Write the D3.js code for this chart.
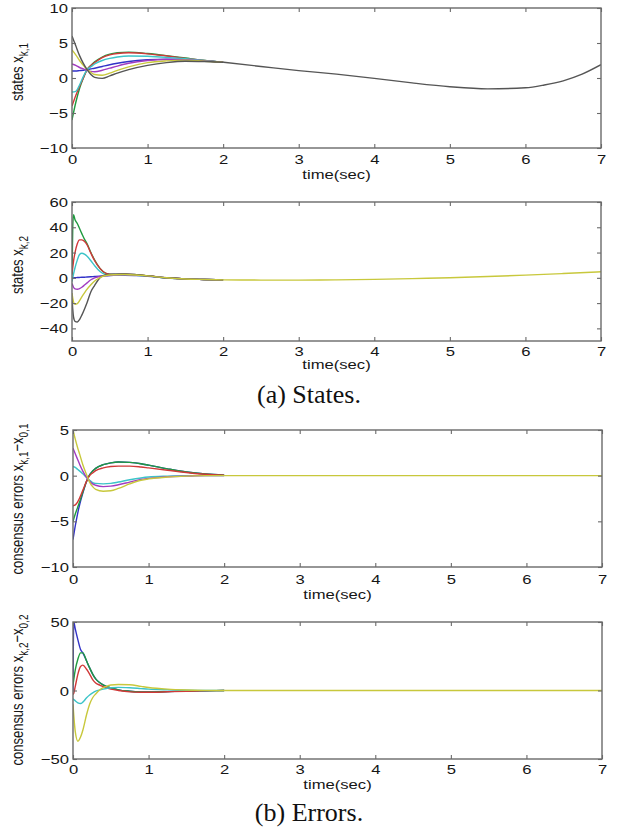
<!DOCTYPE html>
<html><head><meta charset="utf-8">
<script src="https://cdn.jsdelivr.net/npm/d3@7"></script>
<style>
html,body{margin:0;padding:0;background:#fff;}
svg{display:block;}
</style></head>
<body>
<svg id="chart" width="618" height="835"></svg>
<script>
// ---------- data ----------
const xTicks = [0,1,2,3,4,5,6,7];
const colors = {blue:'#3232c8', green:'#1f9a3f', red:'#d03838', cyan:'#3cc4c8', magenta:'#a23cc0', yellow:'#c8c83c', gray:'#555555'};

// Panel 1: states x_{k,1}
const p1Time = [0,0.05,0.1,0.15,0.2,0.25,0.3,0.4,0.5,0.6,0.75,1,1.25,1.5,1.75,2];
const p1Blue    = [1,1,1.05,1.1,1.2,1.3,1.4,1.65,1.9,2.1,2.35,2.6,2.7,2.65,2.45,2.25];
const p1Green   = [-6,-3.5,-1.5,0,1.2,1.8,2.3,3,3.4,3.6,3.7,3.5,3.2,2.85,2.5,2.25];
const p1Red     = [-4,-2.5,-1.2,0,1.2,1.8,2.2,2.9,3.3,3.5,3.6,3.45,3.15,2.8,2.5,2.25];
const p1Cyan    = [-2,-1.9,-1,0.2,1.2,1.6,2,2.5,2.8,3,3.15,3.1,2.95,2.75,2.5,2.25];
const p1Magenta = [2,1.8,1.5,1.3,1.1,0.95,0.9,1.1,1.4,1.7,2.1,2.5,2.65,2.6,2.45,2.25];
const p1Yellow  = [4,3.3,2.5,1.8,1.2,0.8,0.5,0.4,0.7,1.1,1.6,2.2,2.45,2.55,2.4,2.25];
const p1Gray    = [6,4.6,3.2,2.1,1.2,0.5,0.1,-0.05,0.3,0.7,1.2,1.8,2.2,2.4,2.35,2.25];
const p1TailTime = [2,2.5,3,3.5,4,4.5,5,5.5,6,6.25,6.5,6.75,7];
const p1Tail     = [2.25,1.65,1.05,0.55,-0.05,-0.7,-1.25,-1.55,-1.4,-1.0,-0.4,0.55,1.9];
const p1YTicks = [-10,-5,0,5,10];

// Panel 2: states x_{k,2}
const p2Time = [0,0.01,0.02,0.04,0.07,0.1,0.13,0.17,0.2,0.25,0.3,0.37,0.45,0.55,0.7,0.85,1,1.25,1.5,1.75,2];
const p2Blue    = [0,0,0,0.1,0.2,0.3,0.4,0.5,0.6,0.8,1,1.3,1.6,1.9,2.0,1.7,1.2,0,-0.9,-1.3,-1.6];
const p2Green   = [2,40,50,46,43,39,35,30,27,20,14,7.5,3.5,2.5,2.8,2.4,1.6,0,-0.9,-1.3,-1.6];
const p2Red     = [3,8,13,20,27,30,30,28.5,26,19.5,13.5,7.5,3.5,2.5,2.8,2.4,1.6,0,-0.9,-1.3,-1.6];
const p2Cyan    = [-3,0,3,8,14,18.5,19.5,18.5,17,13.5,9.5,5,2.5,2,2.3,2,1.3,-0.1,-0.9,-1.3,-1.6];
const p2Magenta = [-4.5,-6,-7.5,-8.7,-9,-8.5,-7.5,-5.5,-4,-1.5,0,1,1.8,2.2,2.4,2.1,1.4,0,-0.9,-1.3,-1.6];
const p2Gray    = [-15,-25,-31,-34.5,-35,-33,-29.5,-24,-19.5,-11,-6,0,2.5,3,3,2.5,1.6,0,-0.9,-1.3,-1.6];
const p2Yellow  = [-12,-16,-19,-21,-20.5,-18,-15,-11.5,-9,-5.5,-2.5,0.2,1.8,2.4,2.6,2.2,1.5,0,-0.9,-1.3,-1.6];
const p2TailTime = [2,2.5,3,3.5,4,4.5,5,5.5,6,6.5,7];
const p2Tail     = [-1.6,-1.8,-1.8,-1.6,-1.2,-0.6,0.1,1.0,2.1,3.4,4.8];
const p2YTicks = [-40,-20,0,20,40,60];

// Panel 3: consensus errors x_{k,1}-x_{0,1}
const p3Time = [0,0.03,0.06,0.09,0.13,0.18,0.22,0.26,0.3,0.4,0.5,0.6,0.75,0.9,1,1.25,1.5,1.75,2];
const p3Blue    = [-7,-5.5,-4.2,-3.1,-1.9,-0.6,0.1,0.5,0.8,1.2,1.4,1.5,1.45,1.3,1.15,0.75,0.4,0.18,0.06];
const p3Green   = [-5,-4.2,-3.5,-2.8,-1.8,-0.6,0.1,0.5,0.8,1.2,1.4,1.5,1.45,1.3,1.15,0.75,0.4,0.18,0.06];
const p3Red     = [-3.3,-3.2,-2.9,-2.4,-1.6,-0.6,0,0.3,0.55,0.85,1.0,1.05,1.05,0.95,0.85,0.6,0.35,0.15,0.05];
const p3Cyan    = [1,0.9,0.7,0.5,0.2,-0.2,-0.5,-0.75,-0.85,-0.9,-0.85,-0.7,-0.45,-0.25,-0.15,-0.05,0,0,0];
const p3Magenta = [3,2.4,1.8,1.2,0.5,-0.2,-0.6,-0.9,-1.05,-1.2,-1.15,-1.0,-0.7,-0.4,-0.3,-0.12,-0.05,0,0];
const p3Yellow  = [5,4,3.1,2.3,1.2,0.1,-0.7,-1.2,-1.5,-1.7,-1.65,-1.4,-0.9,-0.5,-0.35,-0.15,-0.05,0,0];
const p3TailTime = [2,3,4,5,6,7];
const p3Tail     = [0,0,0,0,0,0];
const p3YTicks = [-10,-5,0,5];

// Panel 4: consensus errors x_{k,2}-x_{0,2}
const p4Time = [0,0.01,0.03,0.065,0.1,0.13,0.18,0.22,0.26,0.3,0.36,0.44,0.5,0.6,0.75,0.9,1,1.25,1.5,1.75,2];
const p4Blue   = [0,50,45,37,30,27.5,21.5,16.5,12,8.5,5.5,3,2,0.5,-0.5,-1,-1.1,-0.8,-0.4,-0.15,0];
const p4Green  = [4,8,15,23,27.5,27.5,21.5,16.5,12,8.5,5.5,3,2,0.5,-0.5,-1,-1.1,-0.8,-0.4,-0.15,0];
const p4Red    = [-3,-2,3,12,17.5,18.5,15.5,12,8,5.5,3.8,1.9,1.0,0,-1,-1.3,-1.3,-0.9,-0.5,-0.2,0];
const p4Cyan   = [-6,-6.5,-7.5,-9,-9.5,-8.5,-5.3,-3.3,-1.7,-0.5,0.5,1.5,2,2.3,2,1.4,1,0.5,0.2,0.05,0];
const p4Yellow = [-10,-18,-30,-37,-34,-29,-17.5,-10,-5.3,-2.5,0.7,3,4,4.4,4.2,3,2.2,1,0.4,0.1,0];
const p4TailTime = [2,3,4,5,6,7];
const p4Tail     = [0,0,0,0,0,0];
const p4YTicks = [-50,0,50];

// ---------- layout ----------
const svg = d3.select('#chart');
const SX = 1.3; // horizontal stretch of the original figure text

const panels = [
  {x0:72, x1:601, y0:8,   y1:148, dom:[-10,10], yt:p1YTicks, t:p1Time,
   series:[[p1Blue,'blue'],[p1Green,'green'],[p1Red,'red'],[p1Cyan,'cyan'],[p1Magenta,'magenta'],[p1Yellow,'yellow'],[p1Gray,'gray']],
   tail:[p1TailTime,p1Tail,'gray'], ylab:[['states x',0],['k,1',1]], ylabY:72, tickBase:16, labBase:31},
  {x0:72, x1:601, y0:202, y1:341, dom:[-50,60], yt:p2YTicks, t:p2Time,
   series:[[p2Blue,'blue'],[p2Green,'green'],[p2Red,'red'],[p2Cyan,'cyan'],[p2Magenta,'magenta'],[p2Gray,'gray'],[p2Yellow,'yellow']],
   tail:[p2TailTime,p2Tail,'yellow'], ylab:[['states x',0],['k,2',1]], ylabY:265, tickBase:15, labBase:28},
  {x0:73, x1:602, y0:430, y1:567, dom:[-10,5], yt:p3YTicks, t:p3Time,
   series:[[p3Blue,'blue'],[p3Green,'green'],[p3Red,'red'],[p3Cyan,'cyan'],[p3Magenta,'magenta'],[p3Yellow,'yellow']],
   tail:[p3TailTime,p3Tail,'yellow'], ylab:[['consensus errors x',0],['k,1',1],['\u2212x',0],['0,1',1]], ylabY:499, tickBase:17, labBase:32},
  {x0:73, x1:602, y0:622, y1:759, dom:[-50,50], yt:p4YTicks, t:p4Time,
   series:[[p4Blue,'blue'],[p4Green,'green'],[p4Red,'red'],[p4Cyan,'cyan'],[p4Yellow,'yellow']],
   tail:[p4TailTime,p4Tail,'yellow'], ylab:[['consensus errors x',0],['k,2',1],['\u2212x',0],['0,2',1]], ylabY:690, tickBase:15, labBase:30}
];

const fmt = d => (d < 0 ? '\u2212' + Math.abs(d) : String(d));
const FONT = 'Liberation Sans, Arial, sans-serif';

panels.forEach((p, i) => {
  const x = d3.scaleLinear().domain([0,7]).range([p.x0, p.x1]);
  const y = d3.scaleLinear().domain(p.dom).range([p.y1, p.y0]);
  const g = svg.append('g');
  const clipId = 'clip' + i;
  svg.append('clipPath').attr('id', clipId).append('rect')
    .attr('x', p.x0).attr('y', p.y0).attr('width', p.x1 - p.x0).attr('height', p.y1 - p.y0);

  const line = d3.line().x(d => x(d[0])).y(d => y(d[1])).curve(d3.curveMonotoneX);
  const lg = g.append('g').attr('clip-path', `url(#${clipId})`);
  p.series.forEach(([vals, c]) => {
    lg.append('path').datum(p.t.map((t, j) => [t, vals[j]]))
      .attr('d', line).attr('fill', 'none').attr('stroke', colors[c])
      .attr('stroke-width', 1.4).attr('stroke-linejoin', 'round');
  });
  const [tt, tv, tc] = p.tail;
  lg.append('path').datum(tt.map((t, j) => [t, tv[j]]))
    .attr('d', line).attr('fill', 'none').attr('stroke', colors[tc]).attr('stroke-width', 1.4);

  const axCol = '#6a6a6a';
  const ax = g.append('g').attr('transform', `translate(0,${p.y1})`)
    .call(d3.axisBottom(x).tickValues(xTicks).tickSizeInner(-4).tickSizeOuter(0).tickPadding(0).tickFormat(fmt));
  ax.selectAll('text').attr('y', null).attr('dy', null)
    .attr('transform', `translate(0,${p.tickBase}) scale(${SX},1)`);
  g.append('g').attr('transform', `translate(0,${p.y0})`)
    .call(d3.axisTop(x).tickValues(xTicks).tickSizeInner(-4).tickSizeOuter(0).tickFormat(''));
  const ay = g.append('g').attr('transform', `translate(${p.x0},0)`)
    .call(d3.axisLeft(y).tickValues(p.yt).tickSizeInner(-4).tickSizeOuter(0).tickPadding(0).tickFormat(fmt));
  ay.selectAll('text').attr('x', null).attr('dy', null)
    .attr('transform', `translate(-4,4.5) scale(${SX},1)`);
  g.append('g').attr('transform', `translate(${p.x1},0)`)
    .call(d3.axisRight(y).tickValues(p.yt).tickSizeInner(-4).tickSizeOuter(0).tickFormat(''));

  g.selectAll('.domain').remove();
  g.selectAll('.tick line').attr('stroke', axCol).attr('stroke-width', 1.1);
  g.selectAll('.tick text').attr('font-family', FONT)
    .attr('font-size', 12.8).attr('fill', '#161616');
  g.append('rect').attr('x', p.x0).attr('y', p.y0).attr('width', p.x1 - p.x0).attr('height', p.y1 - p.y0)
    .attr('fill', 'none').attr('stroke', axCol).attr('stroke-width', 1.4);

  g.append('text').attr('transform', `translate(${(p.x0 + p.x1) / 2},${p.y1 + p.labBase}) scale(${SX},1)`)
    .attr('text-anchor', 'middle').attr('font-family', FONT)
    .attr('font-size', 12.8).attr('fill', '#161616').text('time(sec)');

  const yl = g.append('text').attr('transform', `translate(23,${p.ylabY}) rotate(-90) scale(1,${SX})`)
    .attr('text-anchor', 'middle').attr('font-family', FONT)
    .attr('font-size', 13).attr('fill', '#161616');
  let prevSub = 0;
  p.ylab.forEach(([s, sub]) => {
    const dy = sub === prevSub ? 0 : (sub ? 3.5 : -3.5);
    yl.append('tspan').attr('dy', dy).attr('font-size', sub ? 10 : 13).text(s);
    prevSub = sub;
  });
});

const caps = [['(a) States.', 403], ['(b) Errors.', 821]];
caps.forEach(([t, yb]) => {
  svg.append('text').attr('x', 309).attr('y', yb).attr('text-anchor', 'middle')
    .attr('font-family', 'Liberation Serif, Times New Roman, serif').attr('font-size', 26)
    .attr('fill', '#111').text(t);
});
</script>
</body></html>
